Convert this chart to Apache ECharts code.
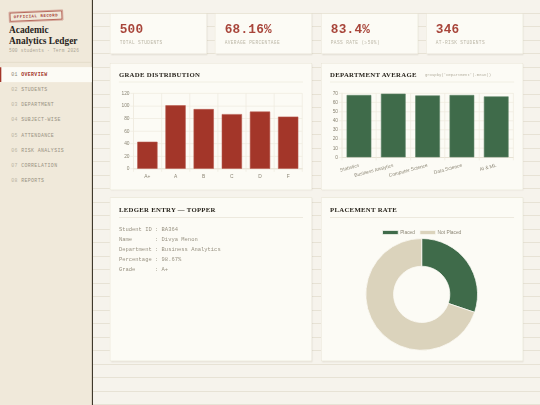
<!DOCTYPE html>
<html>
<head>
<meta charset="utf-8">
<script src="https://cdn.jsdelivr.net/npm/echarts@6/dist/echarts.min.js"></script>
<style>
html,body{margin:0;padding:0;width:540px;height:405px;overflow:hidden}
body{background:#f6f3ec;background-image:repeating-linear-gradient(to bottom,transparent 0,transparent 12.7px,#e7e2d5 12.7px,#e7e2d5 13.5px)}
#page{position:absolute;left:0;top:0;width:1440px;height:1080px;transform:scale(.375);transform-origin:0 0;overflow:hidden;font-family:"Liberation Mono",monospace}
.abs{position:absolute}
#side{left:0;top:0;width:245px;height:1080px;background:#f0e9da;border-right:3px solid #40392c}
#stamp{left:26px;top:31px;width:136px;height:20px;line-height:20px;border:2.5px solid #a8453a;outline:1px solid #a8453a;outline-offset:1.5px;color:#a8453a;font-size:11px;font-weight:bold;letter-spacing:1.3px;text-align:center;transform:rotate(-2.5deg);white-space:nowrap}
#brand{left:24px;top:67px;font:bold 25px/27px "Liberation Serif",serif;color:#28241c}
#brandSub{left:24px;top:128px;font-size:12px;letter-spacing:.6px;color:#aba594;white-space:nowrap}
#sideLine{left:0;top:165px;width:245px;height:2px;background:#e0d9c6}
.nav{left:0;width:245px;height:40px;line-height:40px;font-size:13px;letter-spacing:1px;color:#989282;white-space:pre;text-indent:30px}
.nav.on{background:#fcfbf5;color:#a33629;font-weight:bold;box-shadow:inset 3.5px 0 0 #a33629}
.nav span{color:#bab4a3;font-weight:normal}
.nav.on span{color:#8c8675}
.card{background:#fcfbf5;border:1.5px solid #e2dccb;box-shadow:2px 2px 4px rgba(90,80,50,.14);box-sizing:border-box}
.kval{font-size:34px;font-weight:bold;letter-spacing:.6px;color:#a8453a;white-space:nowrap}
.klab{font-size:12px;letter-spacing:1px;color:#bbb6a6;white-space:nowrap}
.ttl{font:bold 18px/22px "Liberation Serif",serif;color:#28241c;white-space:nowrap;letter-spacing:.8px}
.rule{height:2px;background:#e6e1d2}
.note{font-size:10.5px;color:#b3ae9e;white-space:nowrap}
.row{left:317px;font-size:14.6px;color:#989282;white-space:pre}
.chart{position:absolute}
</style>
</head>
<body>
<div id="page">
<div class="abs" id="side"></div>
<div class="abs" id="stamp">OFFICIAL RECORD</div>
<div class="abs" id="brand">Academic<br>Analytics Ledger</div>
<div class="abs" id="brandSub">500 students · Term 2026</div>
<div class="abs" id="sideLine"></div>
<div id="navBox"></div>
<div id="kpiBox"></div>

<div class="abs card" style="left:293px;top:168px;width:539px;height:339px"></div>
<div class="abs ttl" style="left:317px;top:188px">GRADE DISTRIBUTION</div>
<div class="abs rule" style="left:317px;top:218px;width:491px"></div>

<div class="abs card" style="left:856px;top:168px;width:539px;height:339px"></div>
<div class="abs ttl" style="left:880px;top:188px">DEPARTMENT AVERAGE</div>
<div class="abs note" style="left:1133px;top:194px">groupby('Department').mean()</div>
<div class="abs rule" style="left:880px;top:218px;width:491px"></div>

<div class="abs card" style="left:293px;top:527px;width:539px;height:436px"></div>
<div class="abs ttl" style="left:317px;top:549px">LEDGER ENTRY — TOPPER</div>
<div class="abs rule" style="left:317px;top:579px;width:491px"></div>
<div id="rowBox"></div>

<div class="abs card" style="left:856px;top:527px;width:539px;height:436px"></div>
<div class="abs ttl" style="left:880px;top:549px">PLACEMENT RATE</div>
<div class="abs rule" style="left:880px;top:579px;width:491px"></div>

<div class="chart" id="gradeChart" style="left:296px;top:229px;width:533px;height:275px"></div>
<div class="chart" id="deptChart" style="left:859px;top:229px;width:533px;height:275px"></div>
<div class="chart" id="placeChart" style="left:859px;top:587px;width:533px;height:373px"></div>
</div>

<script>
var navItems = ['OVERVIEW','STUDENTS','DEPARTMENT','SUBJECT-WISE','ATTENDANCE','RISK ANALYSIS','CORRELATION','REPORTS'];
var kpiValues = ['500','68.16%','83.4%','346'];
var kpiLabels = ['TOTAL STUDENTS','AVERAGE PERCENTAGE','PASS RATE (≥50%)','AT-RISK STUDENTS'];
var topperRows = ['Student ID : BA364','Name       : Divya Menon','Department : Business Analytics','Percentage : 98.67%','Grade      : A+'];
var grades = ['A+','A','B','C','D','F'];
var gradeCounts = [43,101,95,87,91,83];
var departments = ['Statistics','Business Analytics','Computer Science','Data Science','AI & ML'];
var deptAverages = [68,69.5,67.5,68,66.5];
var placeNames = ['Placed','Not Placed'];
var placeCounts = [151,349];

var RED = '#a33629', GREEN = '#3f6b4a', BEIGE = '#dbd3bc', LINE = '#efebdf', TXT = '#8c8675';

//侧边导航
!function(){
	var html = '';
	for (var i = 0; i < navItems.length; i++) {
		html += '<div class="abs nav' + (i == 0 ? ' on' : '') + '" style="top:' + (179 + i * 40.4) + 'px"><span>0' + (i + 1) + '</span> ' + navItems[i] + '</div>';
	}
	document.getElementById('navBox').innerHTML = html;
}();

//顶部指标卡
!function(){
	var lefts = [293,573,856,1136], html = '';
	for (var i = 0; i < kpiValues.length; i++) {
		html += '<div class="abs card" style="left:' + lefts[i] + 'px;top:36px;width:259px;height:108px"></div>';
		html += '<div class="abs kval" style="left:' + (lefts[i] + 26) + 'px;top:59px">' + kpiValues[i] + '</div>';
		html += '<div class="abs klab" style="left:' + (lefts[i] + 26) + 'px;top:108px">' + kpiLabels[i] + '</div>';
	}
	document.getElementById('kpiBox').innerHTML = html;
}();

//优秀学生
!function(){
	var html = '';
	for (var i = 0; i < topperRows.length; i++) {
		html += '<div class="abs row" style="top:' + (604.5 + i * 26.7) + 'px">' + topperRows[i] + '</div>';
	}
	document.getElementById('rowBox').innerHTML = html;
}();

function barOption(cats, vals, color, edge, grid, max, interval, rotate){
	return {
		animation: false,
		grid: grid,
		xAxis: {
			type: 'category',
			data: cats,
			axisLine: {lineStyle: {color: '#e3ddcd', width: 2}},
			axisTick: {show: true, length: 8, lineStyle: {color: LINE, width: 2}},
			splitLine: {show: true, lineStyle: {color: LINE, width: 2}},
			axisLabel: {color: TXT, fontSize: 13, fontFamily: 'Liberation Sans', margin: rotate ? 21 : 15, rotate: rotate, interval: 0}
		},
		yAxis: {
			type: 'value',
			min: 0,
			max: max,
			interval: interval,
			axisLine: {show: true, lineStyle: {color: LINE, width: 2}},
			axisTick: {show: true, length: 8, lineStyle: {color: LINE, width: 2}},
			splitLine: {show: true, lineStyle: {color: LINE, width: 2}},
			axisLabel: {color: TXT, fontSize: 13, fontFamily: 'Liberation Sans', margin: 10}
		},
		series: [{
			type: 'bar',
			data: vals,
			barCategoryGap: '28%',
			itemStyle: {color: color, borderColor: edge, borderWidth: 1.5}
		}]
	};
}

var svgOpt = {renderer: 'svg'};
echarts.init(document.getElementById('gradeChart'), null, svgOpt).setOption(
	barOption(grades, gradeCounts, RED, '#b5584c', {left: 59.5, right: 23, top: 20, bottom: 54}, 120, 20, 0)
);
echarts.init(document.getElementById('deptChart'), null, svgOpt).setOption(
	barOption(departments, deptAverages, GREEN, '#5f8468', {left: 52.5, right: 23, top: 19.5, bottom: 84.5}, 70, 10, 15)
);
echarts.init(document.getElementById('placeChart'), null, svgOpt).setOption({
	animation: false,
	legend: {
		data: placeNames,
		top: 21.5,
		left: 155,
		itemWidth: 42,
		itemHeight: 11,
		itemGap: 12,
		icon: 'rect',
		textStyle: {color: TXT, fontSize: 13, fontFamily: 'Liberation Sans'}
	},
	series: [{
		type: 'pie',
		center: [265.5, 198],
		radius: [75, 149],
		startAngle: 90,
		label: {show: false},
		labelLine: {show: false},
		itemStyle: {borderColor: '#fcfbf5', borderWidth: 2},
		data: [
			{name: placeNames[0], value: placeCounts[0], itemStyle: {color: GREEN}},
			{name: placeNames[1], value: placeCounts[1], itemStyle: {color: BEIGE}}
		]
	}]
});
</script>
</body>
</html>
